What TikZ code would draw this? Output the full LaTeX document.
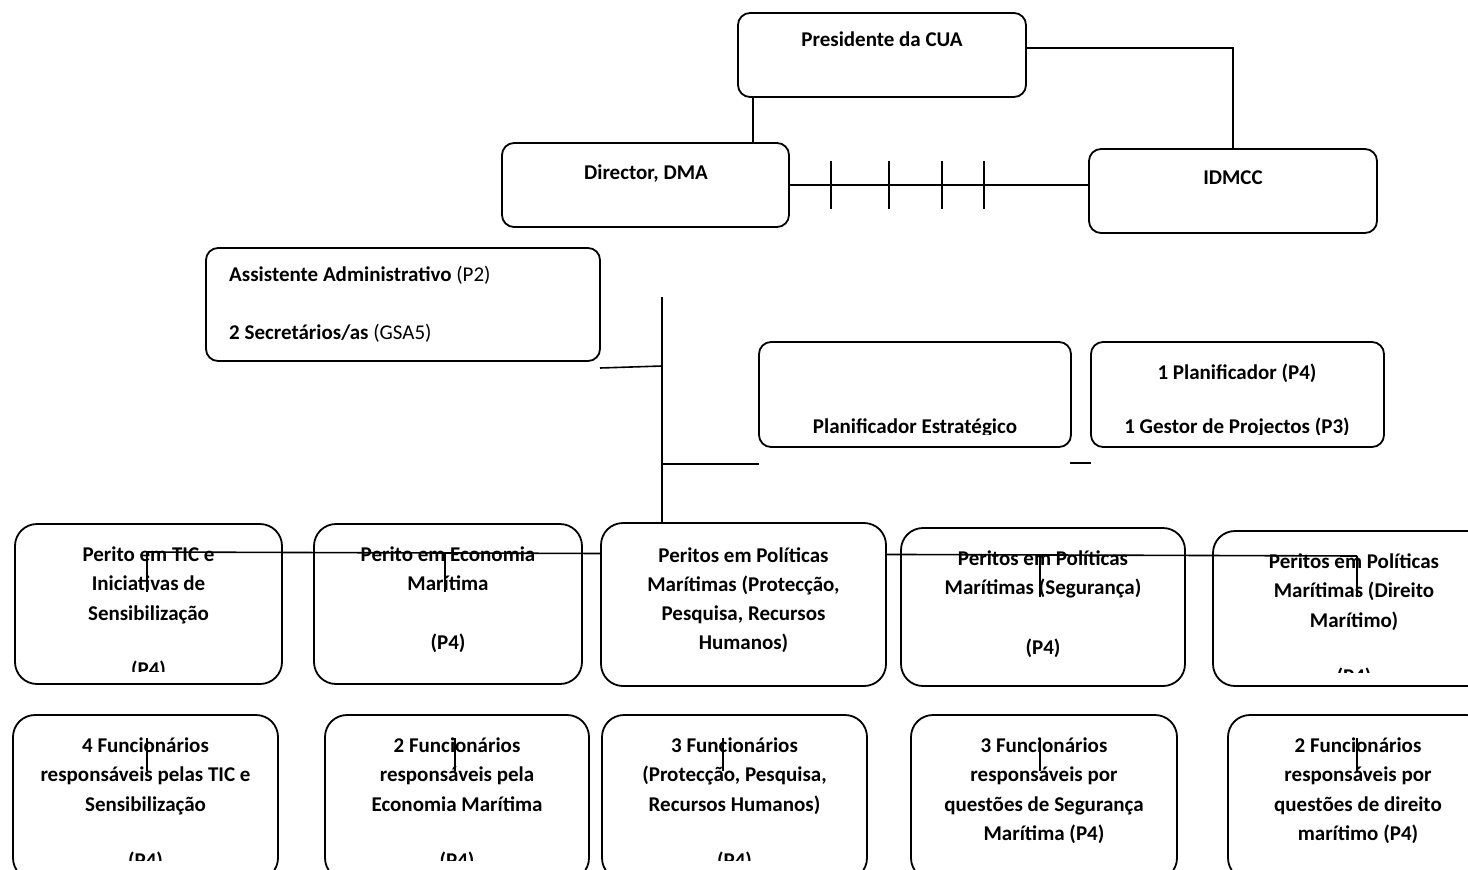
\documentclass[tikz,border=0pt]{standalone}
\usepackage{fontspec}
\setmainfont{Carlito}
\usetikzlibrary{fit}
\tikzset{
  box/.style={draw, line width=1.8pt, inner sep=0pt, outer sep=0pt},
  ubox/.style={box, rounded corners=12pt},
  rbox/.style={box, rounded corners=22pt},
  wbox/.style={rbox, fill=white},
  txt/.style={anchor=base, inner sep=0pt, font=\fontsize{21}{25}\selectfont\bfseries},
  ltxt/.style={anchor=base west, inner sep=0pt, font=\fontsize{21}{25}\selectfont},
  conn/.style={line width=1.6pt},
}
\newcommand\tline[4]{\node[txt] (#1) at (#2,#3) {#4};}
\begin{document}
\begin{tikzpicture}[x=1pt,y=-1pt]
\useasboundingbox (0,0) rectangle (1468,870);
\clip (0,0) rectangle (1468,870);
\fill[white] (0,0) rectangle (1468,870);

% ---- top level
\node[ubox, fit={(738,13) (1026,97)}] (pres) {};
\tline{presT}{882}{46}{Presidente da CUA}
\node[ubox, fit={(502,143) (789,227)}] (dir) {};
\tline{dirT}{646}{179}{Director, DMA}
\node[ubox, fit={(1089,149) (1377,233)}] (idmcc) {};
\tline{idmccT}{1233}{184}{IDMCC}

\coordinate (pr) at (1026,48);
\draw[conn] (pr) -| (idmcc.north);
\coordinate (pd) at (753,0);
\draw[conn] (pres.south -| pd) -- (dir.north -| pd);
\draw[conn] (dir.east) -- (dir.east -| idmcc.west);
\foreach \x in {831,889,942,984} \draw[conn] (\x,161) -- (\x,209);

% ---- assistant
\node[ubox, fit={(206,248) (600,361)}] (asst) {};
\node[ltxt] (asstA) at (229,281) {\textbf{Assistente Administrativo} (P2)};
\node[ltxt] (asstB) at (229,339) {\textbf{2 Secretários/as} (GSA5)};

% ---- planners
\node[ubox, fit={(759,342) (1071,447)}] (plan) {};
\node[ubox, fit={(1091,342) (1384,447)}] (plan2) {};
\tline{plan2a}{1237}{379.5}{1 Planificador (P4)}
\begin{scope}
  \clip (759,342) rectangle (1384,434.5);
  \tline{planT}{915}{433}{Planificador Estratégico}
  \tline{plan2b}{1237}{433}{1 Gestor de Projectos (P3)}
\end{scope}

% ---- trunk
\coordinate (trTop) at (662,297);
\coordinate (aj) at (662,366);
\draw[conn] ([yshift=-7pt]asst.south east) -- (aj);
\coordinate (br) at (662,464);
\draw[conn] (br) -- (br -| plan.west);
\coordinate (s1) at (1070,463);
\draw[conn] (s1) -- (s1 -| plan2.west);

% ---- experts row (under the line)
\node[rbox, fit={(15,524) (282,684)}] (b1) {};
\node[rbox, fit={(314,524) (582,684)}] (b2) {};
\node[rbox, fit={(901,528) (1185,686)}] (b4) {};
\node[rbox, fit={(1213,531) (1495,686)}] (b5) {};
\begin{scope}
  \clip (15,524) rectangle (282,671);
  \tline{b1a}{148.5}{561}{Perito em TIC e}
  \tline{b1b}{148.5}{590.5}{Iniciativas de}
  \tline{b1c}{148.5}{620}{Sensibilização}
  \tline{b1d}{148.5}{676.5}{(P4)}
\end{scope}
\tline{b2a}{448}{561}{Perito em Economia}
\tline{b2b}{448}{590.5}{Marítima}
\tline{b2c}{448}{649}{(P4)}
\tline{b4a}{1043}{565}{Peritos em Políticas}
\tline{b4b}{1043}{594.5}{Marítimas (Segurança)}
\tline{b4c}{1043}{654}{(P4)}
\begin{scope}
  \clip (1213,531) rectangle (1495,672);
  \tline{b5a}{1354}{568}{Peritos em Políticas}
  \tline{b5b}{1354}{597.5}{Marítimas (Direito}
  \tline{b5c}{1354}{627}{Marítimo)}
  \tline{b5d}{1354}{683}{(P4)}
\end{scope}

% horizontal line with ticks
\coordinate (h1) at (147,552);
\coordinate (h2) at (1357,556);
\draw[conn] (h1) -- (h2);
\draw[conn] (h1) -- (147,592);
\draw[conn] (445,553) -- (445,592);
\draw[conn] (1040,555) -- (1040,597);
\draw[conn] (h2) -- (1357,597);

% central expert box on top
\node[wbox, fit={(601,523) (886,686)}] (b3) {};
\tline{b3a}{743.5}{562}{Peritos em Políticas}
\tline{b3b}{743.5}{591}{Marítimas (Protecção,}
\tline{b3c}{743.5}{620}{Pesquisa, Recursos}
\tline{b3d}{743.5}{649}{Humanos)}
\draw[conn] (trTop) -- (trTop |- b3.north);

% ---- staff row
\node[rbox, fit={(13,715) (278,880)}] (b6) {};
\node[rbox, fit={(325,715) (589,880)}] (b7) {};
\node[rbox, fit={(602,715) (867,880)}] (b8) {};
\node[rbox, fit={(911,715) (1177,880)}] (b9) {};
\node[rbox, fit={(1228,715) (1488,880)}] (b10) {};
\begin{scope}
  \clip (0,715) rectangle (1468,860);
  \tline{b6a}{145.5}{752}{4 Funcionários}
  \tline{b6b}{145.5}{781.5}{responsáveis pelas TIC e}
  \tline{b6c}{145.5}{811}{Sensibilização}
  \tline{b6d}{145.5}{867}{(P4)}
  \tline{b7a}{457}{752}{2 Funcionários}
  \tline{b7b}{457}{781.5}{responsáveis pela}
  \tline{b7c}{457}{811}{Economia Marítima}
  \tline{b7d}{457}{867}{(P4)}
  \tline{b8a}{734.5}{752}{3 Funcionários}
  \tline{b8b}{734.5}{781.5}{(Protecção, Pesquisa,}
  \tline{b8c}{734.5}{811}{Recursos Humanos)}
  \tline{b8d}{734.5}{867}{(P4)}
\end{scope}
\tline{b9a}{1044}{752}{3 Funcionários}
\tline{b9b}{1044}{781.5}{responsáveis por}
\tline{b9c}{1044}{811}{questões de Segurança}
\tline{b9d}{1044}{840.5}{Marítima (P4)}
\tline{b10a}{1358}{752}{2 Funcionários}
\tline{b10b}{1358}{781.5}{responsáveis por}
\tline{b10c}{1358}{811}{questões de direito}
\tline{b10d}{1358}{840.5}{marítimo (P4)}
\foreach \x in {147,455,723,1040,1357} \draw[conn] (\x,738) -- (\x,771);
\end{tikzpicture}
\end{document}
